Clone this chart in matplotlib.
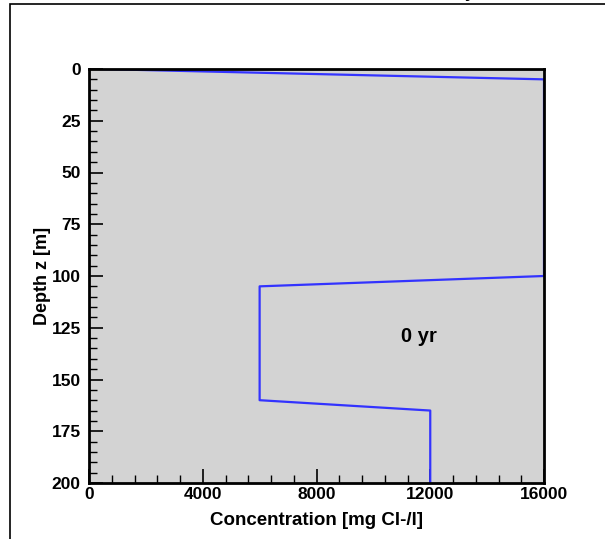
import matplotlib.pyplot as plt
from matplotlib.ticker import MultipleLocator
from matplotlib.patches import Rectangle

# Initial chloride profile (0 yr)
conc_mg_l = [350, 16000, 16000, 6000, 6000, 12000, 12000]
depth_m   = [0,   5,     100,   105,  160,  165,   200]

x_ticks = [0, 4000, 8000, 12000, 16000]
y_ticks = [0, 25, 50, 75, 100, 125, 150, 175, 200]
time_label = "0 yr"

plt.rcParams['font.family'] = ['Liberation Sans', 'DejaVu Sans']
plt.rcParams['font.weight'] = 'bold'

fig = plt.figure(figsize=(6.05, 5.39), dpi=100)

# outer frame (partly cut by the image edge)
fig.patches.append(Rectangle((10 / 605, -0.1), 1.0, 1.1 - 4 / 539,
                             transform=fig.transFigure, fill=False,
                             edgecolor="black", linewidth=1.2))
fig.text(470 / 605, 1 - 1 / 539, "y", ha="center", va="bottom",
         fontsize=13, fontweight="bold")

ax = fig.add_axes([89 / 605, 1 - 483 / 539, 455 / 605, 414 / 539])
ax.set_facecolor("#d3d3d3")
ax.plot(conc_mg_l, depth_m, color="#3333ff", linewidth=1.6, zorder=2)

ax.set_xlim(0, 16000)
ax.set_ylim(200, 0)
ax.set_xticks(x_ticks)
ax.set_yticks(y_ticks)
ax.xaxis.set_minor_locator(MultipleLocator(800))
ax.yaxis.set_minor_locator(MultipleLocator(5))
ax.tick_params(which="major", direction="in", length=10, width=1.2,
               labelsize=12.5, top=False, right=False, zorder=5)
ax.tick_params(which="minor", direction="in", length=6, width=1,
               top=False, right=False)
ax.tick_params(axis="x", pad=3)
ax.tick_params(axis="y", pad=6)
for lbl in ax.get_xticklabels() + ax.get_yticklabels():
    lbl.set_fontweight("bold")
for s in ax.spines.values():
    s.set_linewidth(2)
    s.set_zorder(6)

ax.set_xlabel("Concentration [mg Cl-/l]", fontsize=13.5, fontweight="bold",
              labelpad=7)
ax.set_ylabel("Depth z [m]", fontsize=13, fontweight="bold", labelpad=0)

ax.text(11600, 129, time_label, ha="center", va="center",
        fontsize=14.5, fontweight="bold")

fig.savefig("out.png", dpi=100)
